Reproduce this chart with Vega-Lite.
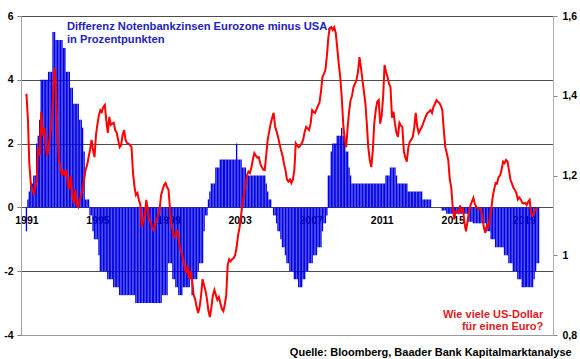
{
  "$schema": "https://vega.github.io/schema/vega-lite/v6.json",
  "width": 532,
  "height": 319,
  "autosize": {"type": "none"},
  "padding": {"left": 21, "top": 16, "right": 27, "bottom": 24},
  "background": "white",
  "config": {"view": {"stroke": null}, "font": "Liberation Sans", "axis": {"labelFont": "Liberation Sans"}},
  "datasets": {
    "bars": [
      {"d":"1991-01","v":-0.75},{"d":"1991-02","v":0.25},{"d":"1991-03","v":0.5},{"d":"1991-04","v":0.75},{"d":"1991-05","v":0.75},{"d":"1991-06","v":1.0},{"d":"1991-07","v":1.0},{"d":"1991-08","v":2.0},{"d":"1991-09","v":2.25},{"d":"1991-10","v":2.75},{"d":"1991-11","v":4.0},{"d":"1991-12","v":4.0},
      {"d":"1992-01","v":4.0},{"d":"1992-02","v":4.0},{"d":"1992-03","v":4.0},{"d":"1992-04","v":4.25},{"d":"1992-05","v":4.25},{"d":"1992-06","v":4.25},{"d":"1992-07","v":5.5},{"d":"1992-08","v":5.5},{"d":"1992-09","v":5.25},{"d":"1992-10","v":5.25},{"d":"1992-11","v":5.25},{"d":"1992-12","v":5.25},
      {"d":"1993-01","v":5.25},{"d":"1993-02","v":5.0},{"d":"1993-03","v":5.0},{"d":"1993-04","v":4.25},{"d":"1993-05","v":4.25},{"d":"1993-06","v":4.25},{"d":"1993-07","v":3.75},{"d":"1993-08","v":3.75},{"d":"1993-09","v":3.25},{"d":"1993-10","v":3.25},{"d":"1993-11","v":3.25},{"d":"1993-12","v":3.25},
      {"d":"1994-01","v":2.75},{"d":"1994-02","v":2.75},{"d":"1994-03","v":2.5},{"d":"1994-04","v":1.75},{"d":"1994-05","v":0.25},{"d":"1994-06","v":0.25},{"d":"1994-07","v":0.25},{"d":"1994-08","v":-0.25},{"d":"1994-09","v":-0.25},{"d":"1994-10","v":-0.75},{"d":"1994-11","v":-1.0},{"d":"1994-12","v":-1.0},
      {"d":"1995-01","v":-1.0},{"d":"1995-02","v":-1.5},{"d":"1995-03","v":-2.0},{"d":"1995-04","v":-2.0},{"d":"1995-05","v":-2.0},{"d":"1995-06","v":-2.0},{"d":"1995-07","v":-2.0},{"d":"1995-08","v":-2.25},{"d":"1995-09","v":-2.25},{"d":"1995-10","v":-2.25},{"d":"1995-11","v":-2.25},{"d":"1995-12","v":-2.5},
      {"d":"1996-01","v":-2.5},{"d":"1996-02","v":-2.5},{"d":"1996-03","v":-2.5},{"d":"1996-04","v":-2.75},{"d":"1996-05","v":-2.75},{"d":"1996-06","v":-2.75},{"d":"1996-07","v":-2.75},{"d":"1996-08","v":-2.75},{"d":"1996-09","v":-2.75},{"d":"1996-10","v":-2.75},{"d":"1996-11","v":-2.75},{"d":"1996-12","v":-2.75},
      {"d":"1997-01","v":-2.75},{"d":"1997-02","v":-2.75},{"d":"1997-03","v":-3.0},{"d":"1997-04","v":-3.0},{"d":"1997-05","v":-3.0},{"d":"1997-06","v":-3.0},{"d":"1997-07","v":-3.0},{"d":"1997-08","v":-3.0},{"d":"1997-09","v":-3.0},{"d":"1997-10","v":-3.0},{"d":"1997-11","v":-3.0},{"d":"1997-12","v":-3.0},
      {"d":"1998-01","v":-3.0},{"d":"1998-02","v":-3.0},{"d":"1998-03","v":-3.0},{"d":"1998-04","v":-3.0},{"d":"1998-05","v":-3.0},{"d":"1998-06","v":-3.0},{"d":"1998-07","v":-3.0},{"d":"1998-08","v":-3.0},{"d":"1998-09","v":-2.75},{"d":"1998-10","v":-2.75},{"d":"1998-11","v":-2.75},{"d":"1998-12","v":-2.75},
      {"d":"1999-01","v":-1.75},{"d":"1999-02","v":-1.75},{"d":"1999-03","v":-1.75},{"d":"1999-04","v":-2.25},{"d":"1999-05","v":-2.25},{"d":"1999-06","v":-2.5},{"d":"1999-07","v":-2.5},{"d":"1999-08","v":-2.75},{"d":"1999-09","v":-2.75},{"d":"1999-10","v":-2.75},{"d":"1999-11","v":-2.5},{"d":"1999-12","v":-2.5},
      {"d":"2000-01","v":-2.5},{"d":"2000-02","v":-2.5},{"d":"2000-03","v":-2.5},{"d":"2000-04","v":-2.25},{"d":"2000-05","v":-2.75},{"d":"2000-06","v":-2.25},{"d":"2000-07","v":-2.25},{"d":"2000-08","v":-2.25},{"d":"2000-09","v":-2.0},{"d":"2000-10","v":-1.75},{"d":"2000-11","v":-1.75},{"d":"2000-12","v":-1.75},
      {"d":"2001-01","v":-0.75},{"d":"2001-02","v":-0.25},{"d":"2001-03","v":-0.25},{"d":"2001-04","v":0.25},{"d":"2001-05","v":0.5},{"d":"2001-06","v":0.75},{"d":"2001-07","v":0.75},{"d":"2001-08","v":0.75},{"d":"2001-09","v":1.25},{"d":"2001-10","v":1.25},{"d":"2001-11","v":1.25},{"d":"2001-12","v":1.5},
      {"d":"2002-01","v":1.5},{"d":"2002-02","v":1.5},{"d":"2002-03","v":1.5},{"d":"2002-04","v":1.5},{"d":"2002-05","v":1.5},{"d":"2002-06","v":1.5},{"d":"2002-07","v":1.5},{"d":"2002-08","v":1.5},{"d":"2002-09","v":1.5},{"d":"2002-10","v":1.5},{"d":"2002-11","v":2.0},{"d":"2002-12","v":1.5},
      {"d":"2003-01","v":1.5},{"d":"2003-02","v":1.5},{"d":"2003-03","v":1.25},{"d":"2003-04","v":1.25},{"d":"2003-05","v":1.25},{"d":"2003-06","v":1.0},{"d":"2003-07","v":1.0},{"d":"2003-08","v":1.0},{"d":"2003-09","v":1.0},{"d":"2003-10","v":1.0},{"d":"2003-11","v":1.0},{"d":"2003-12","v":1.0},
      {"d":"2004-01","v":1.0},{"d":"2004-02","v":1.0},{"d":"2004-03","v":1.0},{"d":"2004-04","v":1.0},{"d":"2004-05","v":1.0},{"d":"2004-06","v":1.0},{"d":"2004-07","v":0.75},{"d":"2004-08","v":0.5},{"d":"2004-09","v":0.25},{"d":"2004-10","v":0.25},{"d":"2004-11","v":0.0},{"d":"2004-12","v":-0.25},
      {"d":"2005-01","v":-0.25},{"d":"2005-02","v":-0.5},{"d":"2005-03","v":-0.75},{"d":"2005-04","v":-0.75},{"d":"2005-05","v":-1.0},{"d":"2005-06","v":-1.25},{"d":"2005-07","v":-1.25},{"d":"2005-08","v":-1.5},{"d":"2005-09","v":-1.75},{"d":"2005-10","v":-1.75},{"d":"2005-11","v":-2.0},{"d":"2005-12","v":-2.0},
      {"d":"2006-01","v":-2.0},{"d":"2006-02","v":-2.25},{"d":"2006-03","v":-2.25},{"d":"2006-04","v":-2.25},{"d":"2006-05","v":-2.5},{"d":"2006-06","v":-2.5},{"d":"2006-07","v":-2.5},{"d":"2006-08","v":-2.25},{"d":"2006-09","v":-2.25},{"d":"2006-10","v":-2.0},{"d":"2006-11","v":-2.0},{"d":"2006-12","v":-1.75},
      {"d":"2007-01","v":-1.75},{"d":"2007-02","v":-1.75},{"d":"2007-03","v":-1.5},{"d":"2007-04","v":-1.5},{"d":"2007-05","v":-1.5},{"d":"2007-06","v":-1.25},{"d":"2007-07","v":-1.25},{"d":"2007-08","v":-1.25},{"d":"2007-09","v":-0.75},{"d":"2007-10","v":-0.5},{"d":"2007-11","v":-0.5},{"d":"2007-12","v":-0.25},
      {"d":"2008-01","v":1.0},{"d":"2008-02","v":1.0},{"d":"2008-03","v":1.75},{"d":"2008-04","v":2.0},{"d":"2008-05","v":2.0},{"d":"2008-06","v":2.0},{"d":"2008-07","v":2.25},{"d":"2008-08","v":2.25},{"d":"2008-09","v":2.25},{"d":"2008-10","v":2.5},{"d":"2008-11","v":2.25},{"d":"2008-12","v":2.25},
      {"d":"2009-01","v":1.75},{"d":"2009-02","v":1.75},{"d":"2009-03","v":1.25},{"d":"2009-04","v":1.0},{"d":"2009-05","v":0.75},{"d":"2009-06","v":0.75},{"d":"2009-07","v":0.75},{"d":"2009-08","v":0.75},{"d":"2009-09","v":0.75},{"d":"2009-10","v":0.75},{"d":"2009-11","v":0.75},{"d":"2009-12","v":0.75},
      {"d":"2010-01","v":0.75},{"d":"2010-02","v":0.75},{"d":"2010-03","v":0.75},{"d":"2010-04","v":0.75},{"d":"2010-05","v":0.75},{"d":"2010-06","v":0.75},{"d":"2010-07","v":0.75},{"d":"2010-08","v":0.75},{"d":"2010-09","v":0.75},{"d":"2010-10","v":0.75},{"d":"2010-11","v":0.75},{"d":"2010-12","v":0.75},
      {"d":"2011-01","v":0.75},{"d":"2011-02","v":0.75},{"d":"2011-03","v":0.75},{"d":"2011-04","v":1.0},{"d":"2011-05","v":1.0},{"d":"2011-06","v":1.0},{"d":"2011-07","v":1.25},{"d":"2011-08","v":1.25},{"d":"2011-09","v":1.25},{"d":"2011-10","v":1.25},{"d":"2011-11","v":1.0},{"d":"2011-12","v":0.75},
      {"d":"2012-01","v":0.75},{"d":"2012-02","v":0.75},{"d":"2012-03","v":0.75},{"d":"2012-04","v":0.75},{"d":"2012-05","v":0.75},{"d":"2012-06","v":0.75},{"d":"2012-07","v":0.5},{"d":"2012-08","v":0.5},{"d":"2012-09","v":0.5},{"d":"2012-10","v":0.5},{"d":"2012-11","v":0.5},{"d":"2012-12","v":0.5},
      {"d":"2013-01","v":0.5},{"d":"2013-02","v":0.5},{"d":"2013-03","v":0.5},{"d":"2013-04","v":0.5},{"d":"2013-05","v":0.25},{"d":"2013-06","v":0.25},{"d":"2013-07","v":0.25},{"d":"2013-08","v":0.25},{"d":"2013-09","v":0.25},{"d":"2013-10","v":0.25},{"d":"2013-11","v":0.0},{"d":"2013-12","v":0.0},
      {"d":"2014-01","v":0.0},{"d":"2014-02","v":0.0},{"d":"2014-03","v":0.0},{"d":"2014-04","v":0.0},{"d":"2014-05","v":0.0},{"d":"2014-06","v":-0.1},{"d":"2014-07","v":-0.1},{"d":"2014-08","v":-0.1},{"d":"2014-09","v":-0.2},{"d":"2014-10","v":-0.2},{"d":"2014-11","v":-0.2},{"d":"2014-12","v":-0.2},
      {"d":"2015-01","v":-0.2},{"d":"2015-02","v":-0.2},{"d":"2015-03","v":-0.2},{"d":"2015-04","v":-0.2},{"d":"2015-05","v":-0.2},{"d":"2015-06","v":-0.2},{"d":"2015-07","v":-0.2},{"d":"2015-08","v":-0.2},{"d":"2015-09","v":-0.2},{"d":"2015-10","v":-0.2},{"d":"2015-11","v":-0.2},{"d":"2015-12","v":-0.45},
      {"d":"2016-01","v":-0.45},{"d":"2016-02","v":-0.45},{"d":"2016-03","v":-0.5},{"d":"2016-04","v":-0.5},{"d":"2016-05","v":-0.5},{"d":"2016-06","v":-0.5},{"d":"2016-07","v":-0.5},{"d":"2016-08","v":-0.5},{"d":"2016-09","v":-0.5},{"d":"2016-10","v":-0.5},{"d":"2016-11","v":-0.5},{"d":"2016-12","v":-0.75},
      {"d":"2017-01","v":-0.75},{"d":"2017-02","v":-0.75},{"d":"2017-03","v":-1.0},{"d":"2017-04","v":-1.0},{"d":"2017-05","v":-1.0},{"d":"2017-06","v":-1.25},{"d":"2017-07","v":-1.25},{"d":"2017-08","v":-1.25},{"d":"2017-09","v":-1.25},{"d":"2017-10","v":-1.25},{"d":"2017-11","v":-1.25},{"d":"2017-12","v":-1.5},
      {"d":"2018-01","v":-1.5},{"d":"2018-02","v":-1.5},{"d":"2018-03","v":-1.75},{"d":"2018-04","v":-1.75},{"d":"2018-05","v":-1.75},{"d":"2018-06","v":-2.0},{"d":"2018-07","v":-2.0},{"d":"2018-08","v":-2.0},{"d":"2018-09","v":-2.25},{"d":"2018-10","v":-2.25},{"d":"2018-11","v":-2.25},{"d":"2018-12","v":-2.5},
      {"d":"2019-01","v":-2.5},{"d":"2019-02","v":-2.5},{"d":"2019-03","v":-2.5},{"d":"2019-04","v":-2.5},{"d":"2019-05","v":-2.5},{"d":"2019-06","v":-2.5},{"d":"2019-07","v":-2.5},{"d":"2019-08","v":-2.25},{"d":"2019-09","v":-2.0},{"d":"2019-10","v":-1.75},{"d":"2019-11","v":-1.75}
    ],
    "fx": [
      {"d":"1991-01","r":1.405},{"d":"1991-02","r":1.34},{"d":"1991-03","r":1.23},{"d":"1991-04","r":1.18},{"d":"1991-05","r":1.165},{"d":"1991-06","r":1.155},{"d":"1991-07","r":1.17},{"d":"1991-08","r":1.19},{"d":"1991-09","r":1.27},{"d":"1991-10","r":1.25},{"d":"1991-11","r":1.36},{"d":"1991-12","r":1.30},
      {"d":"1992-01","r":1.32},{"d":"1992-02","r":1.28},{"d":"1992-03","r":1.25},{"d":"1992-04","r":1.27},{"d":"1992-05","r":1.30},{"d":"1992-06","r":1.33},{"d":"1992-07","r":1.40},{"d":"1992-08","r":1.47},{"d":"1992-09","r":1.42},{"d":"1992-10","r":1.30},{"d":"1992-11","r":1.24},{"d":"1992-12","r":1.22},
      {"d":"1993-01","r":1.20},{"d":"1993-02","r":1.214},{"d":"1993-03","r":1.20},{"d":"1993-04","r":1.214},{"d":"1993-05","r":1.181},{"d":"1993-06","r":1.165},{"d":"1993-07","r":1.20},{"d":"1993-08","r":1.151},{"d":"1993-09","r":1.131},{"d":"1993-10","r":1.164},{"d":"1993-11","r":1.126},{"d":"1993-12","r":1.121},
      {"d":"1994-01","r":1.139},{"d":"1994-02","r":1.15},{"d":"1994-03","r":1.164},{"d":"1994-04","r":1.189},{"d":"1994-05","r":1.214},{"d":"1994-06","r":1.226},{"d":"1994-07","r":1.245},{"d":"1994-08","r":1.264},{"d":"1994-09","r":1.289},{"d":"1994-10","r":1.264},{"d":"1994-11","r":1.246},{"d":"1994-12","r":1.302},
      {"d":"1995-01","r":1.33},{"d":"1995-02","r":1.352},{"d":"1995-03","r":1.364},{"d":"1995-04","r":1.359},{"d":"1995-05","r":1.372},{"d":"1995-06","r":1.377},{"d":"1995-07","r":1.339},{"d":"1995-08","r":1.307},{"d":"1995-09","r":1.347},{"d":"1995-10","r":1.327},{"d":"1995-11","r":1.33},{"d":"1995-12","r":1.332},
      {"d":"1996-01","r":1.314},{"d":"1996-02","r":1.307},{"d":"1996-03","r":1.289},{"d":"1996-04","r":1.271},{"d":"1996-05","r":1.276},{"d":"1996-06","r":1.302},{"d":"1996-07","r":1.314},{"d":"1996-08","r":1.289},{"d":"1996-09","r":1.281},{"d":"1996-10","r":1.28},{"d":"1996-11","r":1.276},{"d":"1996-12","r":1.271},
      {"d":"1997-01","r":1.206},{"d":"1997-02","r":1.171},{"d":"1997-03","r":1.151},{"d":"1997-04","r":1.156},{"d":"1997-05","r":1.139},{"d":"1997-06","r":1.126},{"d":"1997-07","r":1.071},{"d":"1997-08","r":1.085},{"d":"1997-09","r":1.101},{"d":"1997-10","r":1.139},{"d":"1997-11","r":1.114},{"d":"1997-12","r":1.088},
      {"d":"1998-01","r":1.083},{"d":"1998-02","r":1.068},{"d":"1998-03","r":1.063},{"d":"1998-04","r":1.076},{"d":"1998-05","r":1.088},{"d":"1998-06","r":1.10},{"d":"1998-07","r":1.114},{"d":"1998-08","r":1.151},{"d":"1998-09","r":1.164},{"d":"1998-10","r":1.176},{"d":"1998-11","r":1.181},{"d":"1998-12","r":1.171},
      {"d":"1999-01","r":1.164},{"d":"1999-02","r":1.114},{"d":"1999-03","r":1.076},{"d":"1999-04","r":1.06},{"d":"1999-05","r":1.046},{"d":"1999-06","r":1.051},{"d":"1999-07","r":1.063},{"d":"1999-08","r":1.038},{"d":"1999-09","r":1.013},{"d":"1999-10","r":1.006},{"d":"1999-11","r":0.988},{"d":"1999-12","r":0.968},
      {"d":"2000-01","r":0.955},{"d":"2000-02","r":0.975},{"d":"2000-03","r":0.94},{"d":"2000-04","r":0.96},{"d":"2000-05","r":0.935},{"d":"2000-06","r":0.90},{"d":"2000-07","r":0.89},{"d":"2000-08","r":0.87},{"d":"2000-09","r":0.855},{"d":"2000-10","r":0.87},{"d":"2000-11","r":0.90},{"d":"2000-12","r":0.94},
      {"d":"2001-01","r":0.925},{"d":"2001-02","r":0.91},{"d":"2001-03","r":0.89},{"d":"2001-04","r":0.86},{"d":"2001-05","r":0.845},{"d":"2001-06","r":0.87},{"d":"2001-07","r":0.90},{"d":"2001-08","r":0.913},{"d":"2001-09","r":0.90},{"d":"2001-10","r":0.888},{"d":"2001-11","r":0.895},{"d":"2001-12","r":0.88},
      {"d":"2002-01","r":0.865},{"d":"2002-02","r":0.86},{"d":"2002-03","r":0.875},{"d":"2002-04","r":0.90},{"d":"2002-05","r":0.975},{"d":"2002-06","r":0.99},{"d":"2002-07","r":0.985},{"d":"2002-08","r":0.99},{"d":"2002-09","r":0.993},{"d":"2002-10","r":1.00},{"d":"2002-11","r":1.02},{"d":"2002-12","r":1.05},
      {"d":"2003-01","r":1.07},{"d":"2003-02","r":1.10},{"d":"2003-03","r":1.13},{"d":"2003-04","r":1.15},{"d":"2003-05","r":1.175},{"d":"2003-06","r":1.20},{"d":"2003-07","r":1.21},{"d":"2003-08","r":1.206},{"d":"2003-09","r":1.22},{"d":"2003-10","r":1.24},{"d":"2003-11","r":1.256},{"d":"2003-12","r":1.25},
      {"d":"2004-01","r":1.245},{"d":"2004-02","r":1.246},{"d":"2004-03","r":1.23},{"d":"2004-04","r":1.221},{"d":"2004-05","r":1.215},{"d":"2004-06","r":1.214},{"d":"2004-07","r":1.25},{"d":"2004-08","r":1.29},{"d":"2004-09","r":1.31},{"d":"2004-10","r":1.33},{"d":"2004-11","r":1.345},{"d":"2004-12","r":1.357},
      {"d":"2005-01","r":1.322},{"d":"2005-02","r":1.31},{"d":"2005-03","r":1.297},{"d":"2005-04","r":1.28},{"d":"2005-05","r":1.264},{"d":"2005-06","r":1.25},{"d":"2005-07","r":1.23},{"d":"2005-08","r":1.214},{"d":"2005-09","r":1.19},{"d":"2005-10","r":1.185},{"d":"2005-11","r":1.19},{"d":"2005-12","r":1.181},
      {"d":"2006-01","r":1.19},{"d":"2006-02","r":1.214},{"d":"2006-03","r":1.281},{"d":"2006-04","r":1.275},{"d":"2006-05","r":1.271},{"d":"2006-06","r":1.275},{"d":"2006-07","r":1.281},{"d":"2006-08","r":1.29},{"d":"2006-09","r":1.31},{"d":"2006-10","r":1.322},{"d":"2006-11","r":1.318},{"d":"2006-12","r":1.314},
      {"d":"2007-01","r":1.33},{"d":"2007-02","r":1.364},{"d":"2007-03","r":1.36},{"d":"2007-04","r":1.357},{"d":"2007-05","r":1.365},{"d":"2007-06","r":1.375},{"d":"2007-07","r":1.382},{"d":"2007-08","r":1.41},{"d":"2007-09","r":1.447},{"d":"2007-10","r":1.455},{"d":"2007-11","r":1.465},{"d":"2007-12","r":1.50},
      {"d":"2008-01","r":1.547},{"d":"2008-02","r":1.57},{"d":"2008-03","r":1.572},{"d":"2008-04","r":1.565},{"d":"2008-05","r":1.572},{"d":"2008-06","r":1.557},{"d":"2008-07","r":1.52},{"d":"2008-08","r":1.48},{"d":"2008-09","r":1.447},{"d":"2008-10","r":1.397},{"d":"2008-11","r":1.33},{"d":"2008-12","r":1.29},
      {"d":"2009-01","r":1.271},{"d":"2009-02","r":1.322},{"d":"2009-03","r":1.36},{"d":"2009-04","r":1.389},{"d":"2009-05","r":1.40},{"d":"2009-06","r":1.422},{"d":"2009-07","r":1.43},{"d":"2009-08","r":1.44},{"d":"2009-09","r":1.46},{"d":"2009-10","r":1.497},{"d":"2009-11","r":1.47},{"d":"2009-12","r":1.44},
      {"d":"2010-01","r":1.41},{"d":"2010-02","r":1.38},{"d":"2010-03","r":1.33},{"d":"2010-04","r":1.27},{"d":"2010-05","r":1.239},{"d":"2010-06","r":1.221},{"d":"2010-07","r":1.26},{"d":"2010-08","r":1.33},{"d":"2010-09","r":1.364},{"d":"2010-10","r":1.385},{"d":"2010-11","r":1.389},{"d":"2010-12","r":1.33},
      {"d":"2011-01","r":1.35},{"d":"2011-02","r":1.40},{"d":"2011-03","r":1.477},{"d":"2011-04","r":1.46},{"d":"2011-05","r":1.447},{"d":"2011-06","r":1.43},{"d":"2011-07","r":1.422},{"d":"2011-08","r":1.345},{"d":"2011-09","r":1.36},{"d":"2011-10","r":1.33},{"d":"2011-11","r":1.307},{"d":"2011-12","r":1.297},
      {"d":"2012-01","r":1.332},{"d":"2012-02","r":1.325},{"d":"2012-03","r":1.322},{"d":"2012-04","r":1.26},{"d":"2012-05","r":1.245},{"d":"2012-06","r":1.235},{"d":"2012-07","r":1.27},{"d":"2012-08","r":1.285},{"d":"2012-09","r":1.29},{"d":"2012-10","r":1.297},{"d":"2012-11","r":1.32},{"d":"2012-12","r":1.357},
      {"d":"2013-01","r":1.322},{"d":"2013-02","r":1.307},{"d":"2013-03","r":1.314},{"d":"2013-04","r":1.32},{"d":"2013-05","r":1.33},{"d":"2013-06","r":1.34},{"d":"2013-07","r":1.35},{"d":"2013-08","r":1.357},{"d":"2013-09","r":1.36},{"d":"2013-10","r":1.364},{"d":"2013-11","r":1.357},{"d":"2013-12","r":1.372},
      {"d":"2014-01","r":1.38},{"d":"2014-02","r":1.389},{"d":"2014-03","r":1.385},{"d":"2014-04","r":1.382},{"d":"2014-05","r":1.375},{"d":"2014-06","r":1.364},{"d":"2014-07","r":1.314},{"d":"2014-08","r":1.271},{"d":"2014-09","r":1.256},{"d":"2014-10","r":1.239},{"d":"2014-11","r":1.19},{"d":"2014-12","r":1.171},
      {"d":"2015-01","r":1.121},{"d":"2015-02","r":1.09},{"d":"2015-03","r":1.11},{"d":"2015-04","r":1.11},{"d":"2015-05","r":1.106},{"d":"2015-06","r":1.125},{"d":"2015-07","r":1.11},{"d":"2015-08","r":1.115},{"d":"2015-09","r":1.08},{"d":"2015-10","r":1.06},{"d":"2015-11","r":1.085},{"d":"2015-12","r":1.11},
      {"d":"2016-01","r":1.125},{"d":"2016-02","r":1.135},{"d":"2016-03","r":1.144},{"d":"2016-04","r":1.128},{"d":"2016-05","r":1.121},{"d":"2016-06","r":1.118},{"d":"2016-07","r":1.118},{"d":"2016-08","r":1.115},{"d":"2016-09","r":1.10},{"d":"2016-10","r":1.07},{"d":"2016-11","r":1.056},{"d":"2016-12","r":1.075},
      {"d":"2017-01","r":1.07},{"d":"2017-02","r":1.09},{"d":"2017-03","r":1.113},{"d":"2017-04","r":1.146},{"d":"2017-05","r":1.165},{"d":"2017-06","r":1.181},{"d":"2017-07","r":1.18},{"d":"2017-08","r":1.196},{"d":"2017-09","r":1.20},{"d":"2017-10","r":1.214},{"d":"2017-11","r":1.235},{"d":"2017-12","r":1.231},
      {"d":"2018-01","r":1.239},{"d":"2018-02","r":1.235},{"d":"2018-03","r":1.214},{"d":"2018-04","r":1.19},{"d":"2018-05","r":1.18},{"d":"2018-06","r":1.17},{"d":"2018-07","r":1.164},{"d":"2018-08","r":1.156},{"d":"2018-09","r":1.14},{"d":"2018-10","r":1.145},{"d":"2018-11","r":1.14},{"d":"2018-12","r":1.131},
      {"d":"2019-01","r":1.13},{"d":"2019-02","r":1.131},{"d":"2019-03","r":1.126},{"d":"2019-04","r":1.134},{"d":"2019-05","r":1.139},{"d":"2019-06","r":1.106},{"d":"2019-07","r":1.10},{"d":"2019-08","r":1.108},{"d":"2019-09","r":1.115},{"d":"2019-10","r":1.118}
    ]
  },
  "layer": [
    {
      "layer": [
        {
          "data": {"name": "bars"},
          "mark": {"type": "bar", "color": "#0000e6", "size": 1.35},
          "encoding": {
            "x": {
              "field": "d", "type": "temporal",
              "scale": {"domain": [{"year": 1990, "month": 12, "date": 23}, {"year": 2020, "month": 5, "date": 13}]},
              "axis": {
                "orient": "bottom", "offset": -128, "title": null,
                "values": [{"year": 1991, "month": 1, "date": 1}, {"year": 1995, "month": 1, "date": 1}, {"year": 1999, "month": 1, "date": 1}, {"year": 2003, "month": 1, "date": 1}, {"year": 2007, "month": 1, "date": 1}, {"year": 2011, "month": 1, "date": 1}, {"year": 2015, "month": 1, "date": 1}, {"year": 2019, "month": 1, "date": 1}],
                "format": "%Y", "labelFlush": false, "labelOverlap": false,
                "ticks": false, "tickSize": 0, "domain": false, "grid": false,
                "labelFontWeight": "bold", "labelFontSize": 10.5, "labelColor": "#000000", "labelPadding": 8
              }
            },
            "y": {
              "field": "v", "type": "quantitative",
              "scale": {"domain": [-4, 6], "nice": false},
              "axis": {
                "orient": "left", "title": null, "values": [-4, -2, 0, 2, 4, 6],
                "labelExpr": "'' + datum.value",
                "grid": true,
                "gridColor": {"condition": {"test": "datum.value === -4", "value": "#9a9a9a"}, "value": "#4d4d4d"},
                "gridWidth": 1,
                "domainColor": "#a0a0a0", "tickColor": "#777777", "tickSize": 4,
                "labelPadding": 4, "labelFontWeight": "bold", "labelFontSize": 10.5, "labelColor": "#000000"
              }
            }
          }
        },
        {
          "data": {"values": [{}]},
          "mark": {"type": "text", "align": "left", "baseline": "alphabetic", "fontSize": 11.2, "fontWeight": "bold", "color": "#2222c0", "lineHeight": 13, "font": "Liberation Sans"},
          "encoding": {
            "x": {"datum": {"year": 1993, "month": 4, "date": 12}, "type": "temporal"},
            "y": {"datum": 5.56, "type": "quantitative"},
            "text": {"value": ["Differenz Notenbankzinsen Eurozone minus USA,", "in Prozentpunkten"]}
          }
        },
        {
          "data": {"values": [{}]},
          "mark": {"type": "text", "align": "right", "baseline": "alphabetic", "fontSize": 11, "fontWeight": "bold", "color": "#e3191e", "lineHeight": 12.5, "font": "Liberation Sans"},
          "encoding": {
            "x": {"datum": {"year": 2020, "month": 2, "date": 4}, "type": "temporal"},
            "y": {"datum": -3.46, "type": "quantitative"},
            "text": {"value": ["Wie viele US-Dollar", "für einen Euro?"]}
          }
        },
        {
          "data": {"values": [{}]},
          "mark": {"type": "text", "align": "right", "baseline": "alphabetic", "fontSize": 11, "fontWeight": "bold", "color": "#000000", "font": "Liberation Sans"},
          "encoding": {
            "x": {"datum": {"year": 2021, "month": 9, "date": 12}, "type": "temporal"},
            "y": {"datum": -4.65, "type": "quantitative"},
            "text": {"value": "Quelle: Bloomberg, Baader Bank Kapitalmarktanalyse"}
          }
        }
      ]
    },
    {
      "data": {"name": "fx"},
      "mark": {"type": "line", "color": "#ff0000", "strokeWidth": 2},
      "encoding": {
        "x": {"field": "d", "type": "temporal"},
        "y": {
          "field": "r", "type": "quantitative",
          "scale": {"domain": [0.8, 1.6], "nice": false, "zero": false},
          "axis": {
            "orient": "right", "title": null, "values": [0.8, 1.0, 1.2, 1.4, 1.6],
            "labelExpr": "replace('' + datum.value, '.', ',')",
            "grid": false, "domainColor": "#b0b0b0", "tickColor": "#888888", "tickSize": 4,
            "labelPadding": 5, "labelFontWeight": "bold", "labelFontSize": 10.5, "labelColor": "#000000"
          }
        }
      }
    }
  ],
  "resolve": {"scale": {"y": "independent"}}
}
